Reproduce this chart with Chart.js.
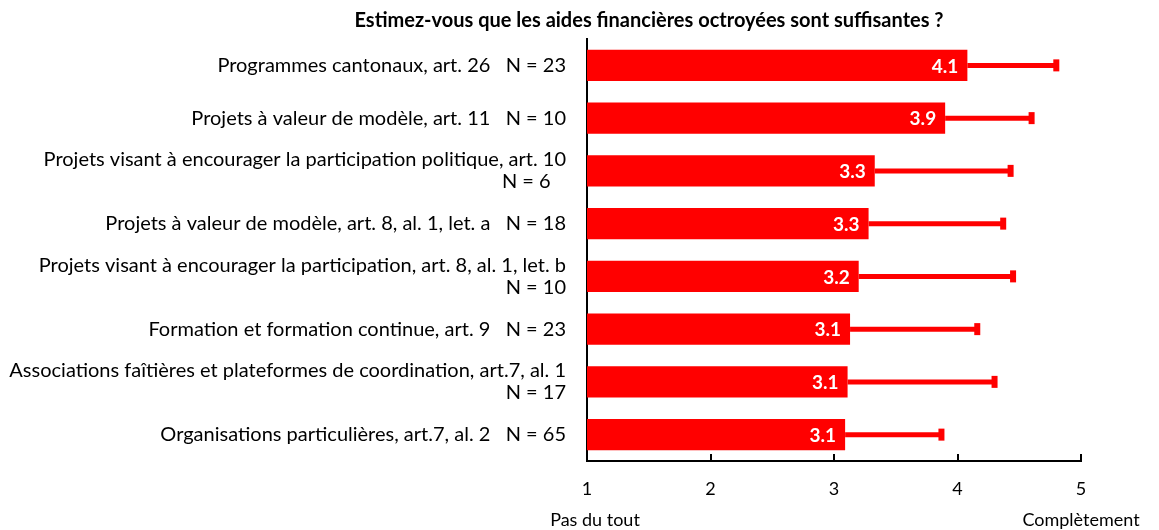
<!DOCTYPE html>
<html>
<head>
<meta charset="utf-8">
<script src="https://cdn.jsdelivr.net/npm/chart.js@4/dist/chart.umd.min.js"></script>
<style>
  html, body { margin: 0; padding: 0; background: #fff; }
  #wrap { width: 1159px; height: 530px; }
</style>
</head>
<body>
<div id="wrap"><canvas id="c" width="1159" height="530"></canvas></div>
<script>
const chartTitle = 'Estimez-vous que les aides financières octroyées sont suffisantes ?';
const categories = [
  ['Programmes cantonaux, art. 26   N = 23'],
  ['Projets à valeur de modèle, art. 11   N = 10'],
  ['Projets visant à encourager la participation politique, art. 10', 'N = 6   '],
  ['Projets à valeur de modèle, art. 8, al. 1, let. a   N = 18'],
  ['Projets visant à encourager la participation, art. 8, al. 1, let. b', 'N = 10'],
  ['Formation et formation continue, art. 9   N = 23'],
  ['Associations faîtières et plateformes de coordination, art.7, al. 1', 'N = 17'],
  ['Organisations particulières, art.7, al. 2   N = 65']
];
const means = [4.08, 3.90, 3.33, 3.28, 3.20, 3.13, 3.11, 3.09];
const errorPlus = [0.72, 0.70, 1.10, 1.09, 1.25, 1.03, 1.19, 0.78];
const valueLabels = ['4.1', '3.9', '3.3', '3.3', '3.2', '3.1', '3.1', '3.1'];
const xMin = 1, xMax = 5, xStep = 1;
const scaleEndLabels = [[1, 'Pas du tout'], [5, 'Complètement']];

const FONT = 'Lato, "Noto Sans", sans-serif';
const RED = '#ff0000';

const extrasPlugin = {
  id: 'extras',
  afterDatasetsDraw(chart) {
    const ctx = chart.ctx;
    const xs = chart.scales.x;
    const meta = chart.getDatasetMeta(0);
    ctx.save();
    meta.data.forEach((bar, i) => {
      const xEnd = xs.getPixelForValue(means[i] + errorPlus[i]);
      ctx.strokeStyle = RED;
      ctx.lineWidth = 5;
      ctx.beginPath();
      ctx.moveTo(bar.x, bar.y);
      ctx.lineTo(xEnd - 2, bar.y);
      ctx.stroke();
      ctx.fillStyle = RED;
      ctx.fillRect(xEnd - 3, bar.y - 6, 6, 12);
      ctx.fillStyle = '#ffffff';
      ctx.font = 'bold 19px ' + FONT;
      ctx.textAlign = 'right';
      ctx.textBaseline = 'middle';
      ctx.fillText(valueLabels[i], bar.x - 9, bar.y + 1);
    });
    ctx.restore();
  },
  afterDraw(chart) {
    const ctx = chart.ctx;
    const xs = chart.scales.x;
    const ca = chart.chartArea;
    ctx.save();
    ctx.strokeStyle = '#000';
    ctx.lineWidth = 2;
    for (let v = xMin + xStep; v <= xMax; v += xStep) {
      const px = Math.round(xs.getPixelForValue(v));
      ctx.beginPath();
      ctx.moveTo(px, ca.bottom);
      ctx.lineTo(px, ca.bottom - 7);
      ctx.stroke();
    }
    ctx.fillStyle = '#000';
    ctx.font = 'bold 20px ' + FONT;
    ctx.textAlign = 'center';
    ctx.textBaseline = 'alphabetic';
    ctx.fillText(chartTitle, 649, 27);
    ctx.font = '18px ' + FONT;
    scaleEndLabels.forEach(([v, t], k) => {
      const px = xs.getPixelForValue(v) + (k === 0 ? 8 : 0);
      ctx.fillText(t, px, 526);
    });
    ctx.restore();
  }
};

new Chart(document.getElementById('c'), {
  type: 'bar',
  data: {
    labels: categories,
    datasets: [{
      data: means,
      backgroundColor: RED,
      borderWidth: 0,
      categoryPercentage: 1,
      barPercentage: 0.59
    }]
  },
  options: {
    indexAxis: 'y',
    responsive: false,
    animation: false,
    devicePixelRatio: 1,
    layout: { padding: { left: 0, right: 78, top: 39, bottom: 0 } },
    plugins: {
      legend: { display: false },
      tooltip: { enabled: false },
      title: { display: false }
    },
    scales: {
      x: {
        type: 'linear',
        min: xMin,
        max: xMax,
        ticks: {
          stepSize: xStep,
          color: '#000',
          font: { family: FONT, size: 18 },
          padding: 17
        },
        grid: { drawOnChartArea: false, drawTicks: false },
        border: { display: true, color: '#000', width: 2 },
        afterFit(s) { s.height = 69; }
      },
      y: {
        type: 'category',
        ticks: {
          color: '#000',
          font: { family: FONT, size: 20, lineHeight: 1.1 },
          padding: 21,
          autoSkip: false
        },
        grid: { drawOnChartArea: false, drawTicks: false },
        border: { display: true, color: '#000', width: 2 },
        afterFit(s) { s.width = 587; }
      }
    }
  },
  plugins: [extrasPlugin]
});
</script>
</body>
</html>
